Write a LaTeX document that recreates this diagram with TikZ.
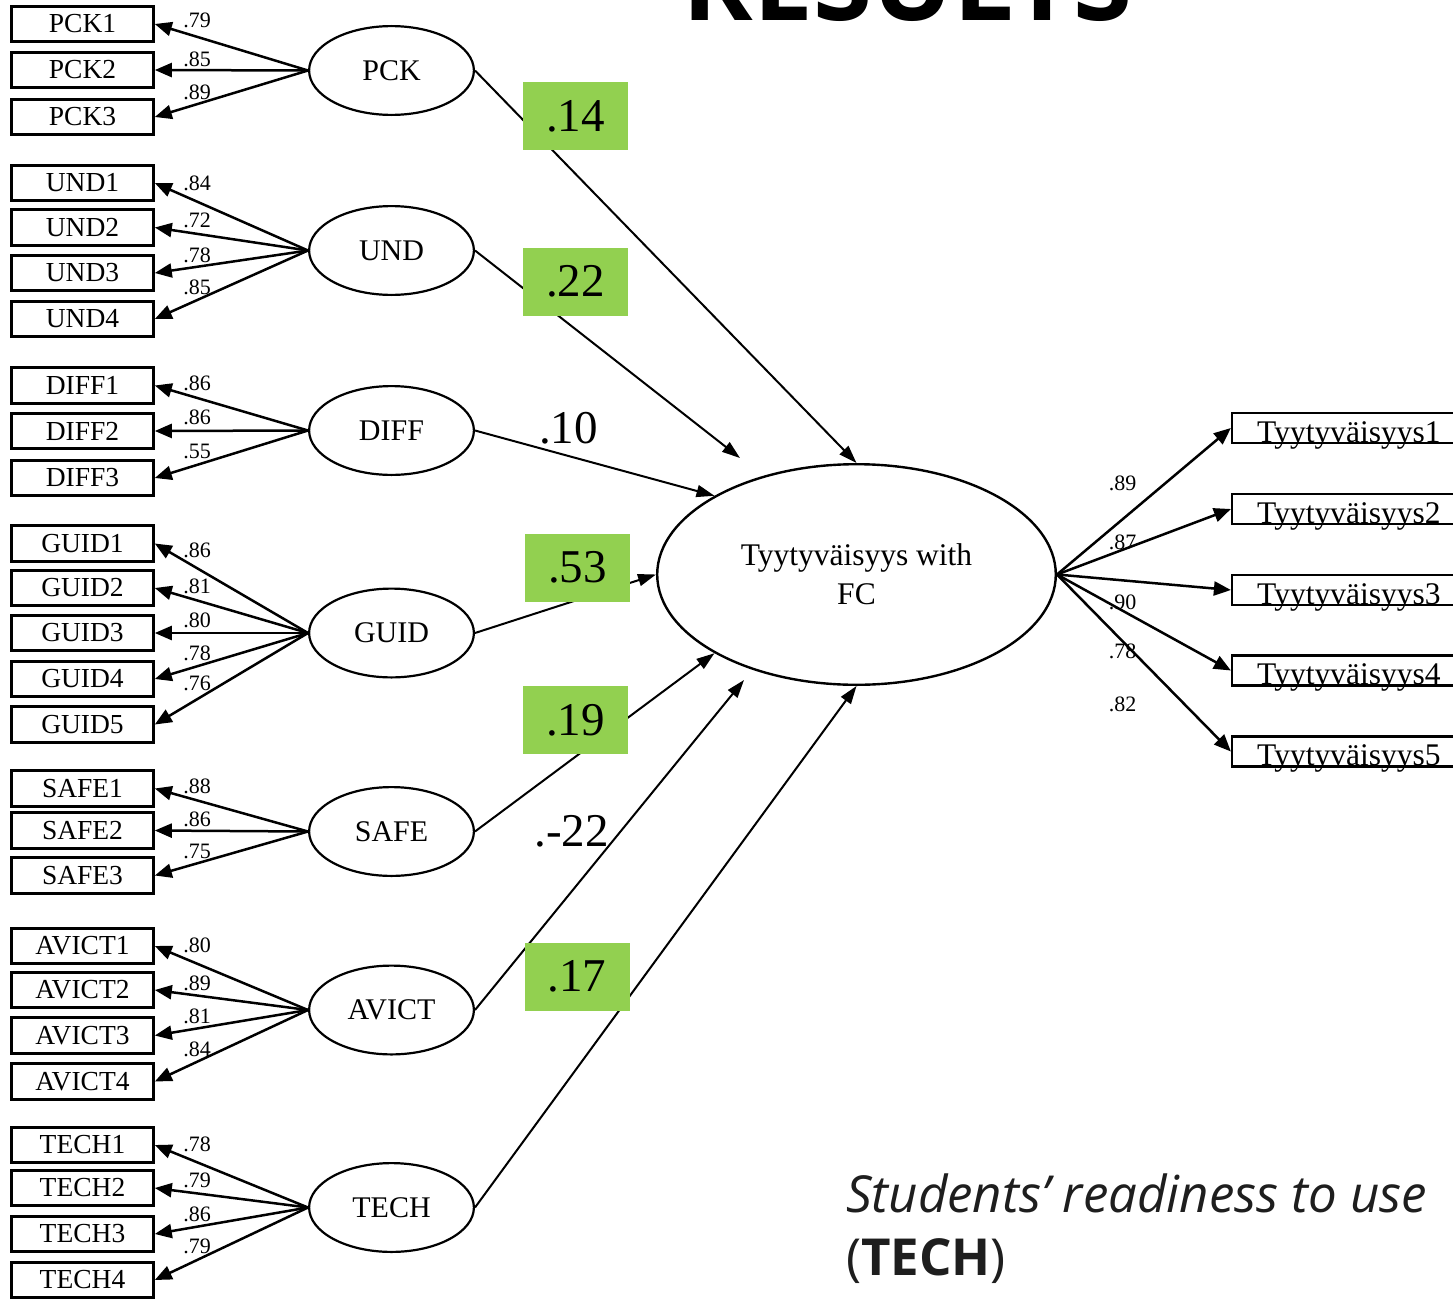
\documentclass[tikz,border=0pt]{standalone}
\usepackage{fontspec}
\setmainfont{Liberation Serif}
\newfontfamily\notefont{Open Sans}
\newfontfamily\headfont{Open Sans}
\usetikzlibrary{arrows.meta,shapes.geometric}
\definecolor{lgreen}{RGB}{146,208,80}
\definecolor{notegray}{RGB}{30,30,30}
\newcommand\setsize[2]{\fontsize{#1}{#2}\selectfont}

\begin{document}
\begin{tikzpicture}[x=1pt,y=-1pt,
  ind/.style={draw, line width=2.6pt, rectangle, minimum width=142pt, minimum height=35.5pt, inner sep=0pt, font=\setsize{27.5}{33}},
  lat/.style={draw, ellipse, line width=2.2pt, minimum width=164.8pt, minimum height=88.8pt, inner sep=0pt, font=\setsize{30}{36}},
  outbox/.style={draw, line width=2.2pt, rectangle, minimum width=258pt, minimum height=30pt, inner sep=0pt},
  outtext/.style={anchor=base west, inner sep=0pt, font=\setsize{31.5}{38}},
  fan/.style={line width=2.5pt, -{Triangle[length=17pt,width=14pt]}},
  effect/.style={line width=2pt, -{Triangle[length=18pt,width=12pt]}},
  ld/.style={inner sep=0pt, font=\setsize{22}{26}},
  coef/.style={inner sep=0pt, font=\setsize{47}{56}},
  gbox/.style={fill=lgreen, minimum width=105pt, minimum height=68pt, inner sep=0pt, font=\setsize{47}{56}}]

\path[use as bounding box] (0,0) rectangle (1453,1298);
\clip (0,0) rectangle (1453,1298);
\fill[white] (0,0) rectangle (1453,1298);

% heading, mostly above the visible area
\node[anchor=base, inner sep=0pt, font=\headfont\bfseries\setsize{107}{120}] (head) at (907.5,21) {RESULTS};

% indicator boxes
\foreach \n/\y in {PCK1/24, PCK2/70, PCK3/117,
                   UND1/183, UND2/227.5, UND3/273, UND4/319,
                   DIFF1/385.5, DIFF2/431, DIFF3/478,
                   GUID1/543.5, GUID2/588, GUID3/633, GUID4/679, GUID5/724.5,
                   SAFE1/788.5, SAFE2/830.5, SAFE3/875.5,
                   AVICT1/946, AVICT2/990, AVICT3/1035.5, AVICT4/1081.5,
                   TECH1/1145, TECH2/1188, TECH3/1234, TECH4/1280}
  \node[ind] (\n) at (82.5,\y) {\n};

% latent factors
\foreach \n/\y in {PCK/70.5, UND/250.5, DIFF/430.5, GUID/633, SAFE/831.5, AVICT/1010, TECH/1207.5}
  \node[lat] (\n) at (391.5,\y) {\n};

% outcome factor
\node[draw, ellipse, line width=2.4pt, minimum width=398.6pt, minimum height=220.6pt,
      inner sep=0pt, align=center, font=\setsize{31.5}{39}] (fc) at (856.5,574.5)
      {Tyytyväisyys with\\FC};

% outcome indicators
\foreach \i/\y in {1/428, 2/509, 3/590, 4/670.5, 5/751.5} {
  \node[outbox] (T\i) at (1361,\y) {};
  \node[outtext] (T\i text) at (1257,\y+14) {Tyytyväisyys\i};
}

% measurement arrows
\foreach \l/\m in {PCK/PCK1, PCK/PCK2, PCK/PCK3,
                   UND/UND1, UND/UND2, UND/UND3, UND/UND4,
                   DIFF/DIFF1, DIFF/DIFF2, DIFF/DIFF3,
                   GUID/GUID1, GUID/GUID2, GUID/GUID3, GUID/GUID4, GUID/GUID5,
                   SAFE/SAFE1, SAFE/SAFE2, SAFE/SAFE3,
                   AVICT/AVICT1, AVICT/AVICT2, AVICT/AVICT3, AVICT/AVICT4,
                   TECH/TECH1, TECH/TECH2, TECH/TECH3, TECH/TECH4}
  \draw[fan] (\l.west) -- (\m.east);

\foreach \i in {1,...,5}
  \draw[fan] (fc.east) -- (T\i.west);

% loadings
\foreach \n/\y/\v in {a1/20.5/.79, a2/59/.85, a3/92/.89,
                      b1/183/.84, b2/220/.72, b3/255/.78, b4/287.5/.85,
                      c1/383/.86, c2/417/.86, c3/451/.55,
                      d1/550/.86, d2/586/.81, d3/620.5/.80, d4/653/.78, d5/683/.76,
                      e1/786/.88, e2/819/.86, e3/851/.75,
                      f1/945/.80, f2/983/.89, f3/1016/.81, f4/1049/.84,
                      g1/1144/.78, g2/1180.5/.79, g3/1214/.86, g4/1246/.79}
  \node[ld] (load\n) at (197,\y) {\v};

\foreach \n/\y/\v in {1/483/.89, 2/542.5/.87, 3/602.5/.90, 4/651/.78, 5/704.5/.82}
  \node[ld] (out\n) at (1122.5,\y) {\v};

% structural paths
\coordinate (undEnd) at (740,458);
\coordinate (avictEnd) at (744,680);
\draw[effect] (PCK.east) -- (fc.north);
\draw[effect] (UND.east) -- (undEnd);
\draw[effect] (DIFF.east) -- (fc.151);
\draw[effect] (GUID.east) -- (fc.west);
\draw[effect] (SAFE.east) -- (fc.209);
\draw[effect] (AVICT.east) -- (avictEnd);
\draw[effect] (TECH.east) -- (fc.south);

% path coefficients
\node[gbox] (cPCK) at (575.5,116) {.14};
\node[gbox] (cUND) at (575.5,281.5) {.22};
\node[coef] (cDIFF) at (568.5,428) {.10};
\node[gbox] (cGUID) at (577.5,567.5) {.53};
\node[gbox] (cSAFE) at (575.5,720) {.19};
\node[coef] (cAVICT) at (571.5,831.5) {.-22};
\node[gbox] (cTECH) at (577,976.5) {.17};

% note
\node[anchor=base west, inner sep=0pt, text=notegray, font=\notefont\itshape\setsize{51}{62}] (note1) at (846,1212) {Students’ readiness to use};
\node[anchor=base west, inner sep=0pt, text=notegray, font=\notefont\setsize{51}{62}] (note2) at (846,1275) {(\textbf{TECH})};
\end{tikzpicture}
\end{document}
